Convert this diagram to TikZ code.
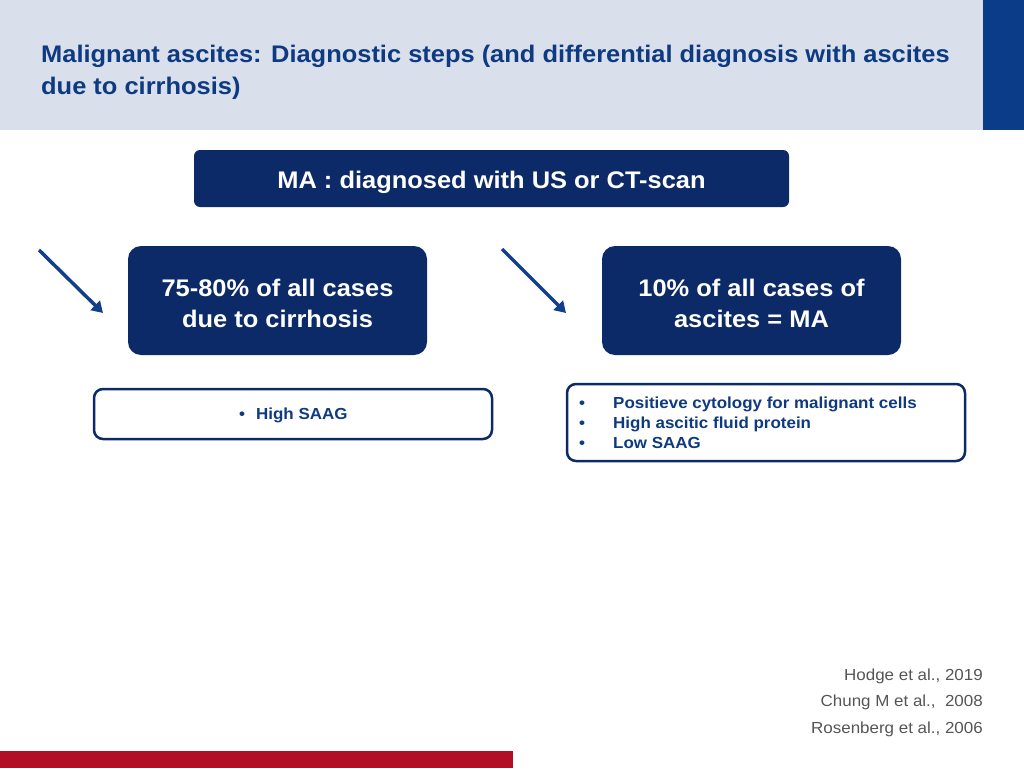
\documentclass[tikz,border=0pt]{standalone}
\usepackage{fontspec}
\setmainfont{Liberation Sans}[FakeStretch=1.06]
\usetikzlibrary{arrows.meta}
\definecolor{band}{HTML}{DAE0EB}
\definecolor{sidebar}{HTML}{0B3C87}
\definecolor{titleblue}{HTML}{0E3A82}
\definecolor{navy}{HTML}{0C2A68}
\definecolor{arrowblue}{HTML}{123F8C}
\definecolor{refgrey}{HTML}{555555}
\definecolor{barred}{HTML}{B20F26}
\tikzset{
  darkbox/.style={fill=navy, draw=none, text=white, font=\bfseries\fontsize{24}{31}\selectfont, align=center},
  bulletbox/.style={draw=navy, line width=2.5pt, fill=white, rounded corners=9pt},
  bullettext/.style={text=titleblue, font=\bfseries\fontsize{16}{20}\selectfont, anchor=base west, inner sep=0pt},
  refstyle/.style={text=refgrey, font=\fontsize{16}{18}\selectfont, anchor=east, inner sep=0pt},
  diagarrow/.style={draw=arrowblue, line width=3.5pt, -{Triangle[length=11pt,width=13pt]}},
}
\begin{document}
\begin{tikzpicture}[x=1pt,y=-1pt]
\useasboundingbox (0,0) rectangle (1024,768);
% header
\fill[band] (0,0) rectangle (983,130);
\fill[sidebar] (983,0) rectangle (1024,130);
\node[anchor=base west, inner sep=0pt, text=titleblue, align=left, font=\bfseries\fontsize{24}{31.5}\selectfont] (title) at (41,94)
  {Malignant ascites: Diagnostic steps (and differential diagnosis with ascites\\due to cirrhosis)};
% top box
\fill[navy, rounded corners=6pt] (194,150) rectangle (789,207);
\node[darkbox, anchor=base] (ma) at (491.5,188) {MA : diagnosed with US or CT-scan};
% mid boxes
\fill[navy, rounded corners=13pt] (128,246) rectangle (427,355);
\node[darkbox] (left) at (277.5,303) {75-80\% of all cases\\due to cirrhosis};
\fill[navy, rounded corners=13pt] (602,246) rectangle (901,355);
\node[darkbox] (right) at (751.5,303) {10\% of all cases of\\ascites = MA};
% arrows
\coordinate (a1s) at (39,250); \coordinate (a1e) at (103,313);
\coordinate (a2s) at (502,249); \coordinate (a2e) at (566,313);
\draw[diagarrow] (a1s) -- (a1e);
\draw[diagarrow] (a2s) -- (a2e);
% bullet boxes
\draw[bulletbox] (94,389) rectangle (492,439);
\node[bullettext] (hs) at (239,419.5) {\textbullet\hspace{11pt}High SAAG};
\draw[bulletbox] (567,384) rectangle (965,461);
\node[bullettext] (b1) at (579,408.5) {\textbullet};
\node[bullettext] (t1) at (613,408.5) {Positieve cytology for malignant cells};
\node[bullettext] (b2) at (579,428.5) {\textbullet};
\node[bullettext] (t2) at (613,428.5) {High ascitic fluid protein};
\node[bullettext] (b3) at (579,448.5) {\textbullet};
\node[bullettext] (t3) at (613,448.5) {Low SAAG};
% references
\node[refstyle] (r1) at (983,676) {Hodge et al., 2019};
\node[refstyle] (r2) at (983,702) {Chung M et al.,~ 2008};
\node[refstyle] (r3) at (983,729) {Rosenberg et al., 2006};
% bottom bar
\fill[barred] (0,751) rectangle (513,768);
\end{tikzpicture}
\end{document}
